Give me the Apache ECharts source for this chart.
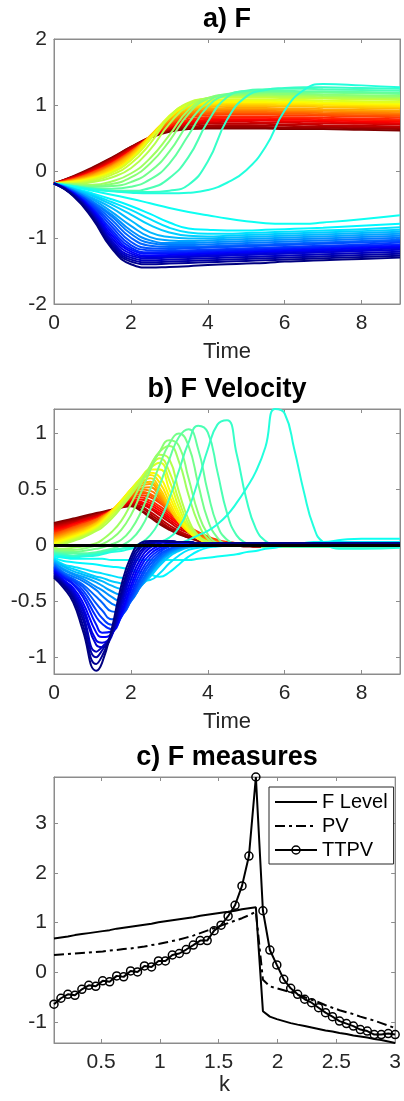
<!DOCTYPE html>
<html><head><meta charset="utf-8">
<script src="https://cdn.jsdelivr.net/npm/echarts@6/dist/echarts.min.js"></script>
<style>html,body{margin:0;padding:0;background:#fff}#c{width:404px;height:1101px}</style>
</head><body><div id="c"></div>
<script>
// ---------- tick labels ----------
const ticksTime = [0, 2, 4, 6, 8];
const ticksF = [-2, -1, 0, 1, 2];
const ticksVel = [-1, -0.5, 0, 0.5, 1];
const ticksK = [0.5, 1, 1.5, 2, 2.5, 3];
const ticksMeasure = [-1, 0, 1, 2, 3];

// ---------- panel a: F over time (one row per k, k ascending) ----------
const timeF = [0, 0.5, 1, 1.5, 2, 2.5, 3, 3.5, 4, 4.5, 5, 5.5, 6, 6.5, 7, 8, 9];
const fUpper = [
[-.18,-.07,.06,.21,.37,.51,.60,.64,.65,.65,.65,.65,.64,.64,.64,.63,.62],
[-.18,-.08,.05,.20,.37,.52,.62,.66,.67,.67,.67,.67,.66,.66,.66,.65,.64],
[-.18,-.08,.04,.19,.36,.52,.63,.68,.69,.70,.70,.69,.69,.68,.68,.67,.66],
[-.18,-.09,.03,.18,.35,.52,.64,.70,.72,.72,.72,.72,.71,.71,.70,.69,.68],
[-.18,-.09,.02,.17,.34,.51,.65,.72,.74,.75,.75,.74,.74,.73,.73,.72,.71],
[-.18,-.10,.01,.15,.33,.51,.66,.73,.76,.77,.77,.77,.76,.76,.75,.74,.73],
[-.18,-.10,.00,.14,.32,.51,.67,.75,.78,.79,.79,.79,.78,.78,.77,.76,.75],
[-.18,-.11,-.01,.13,.31,.51,.68,.77,.80,.81,.81,.81,.80,.80,.79,.78,.77],
[-.18,-.11,-.01,.12,.30,.51,.69,.78,.82,.83,.83,.83,.82,.82,.81,.80,.79],
[-.18,-.12,-.02,.12,.30,.52,.71,.81,.85,.86,.86,.86,.85,.85,.84,.83,.82],
[-.18,-.12,-.02,.11,.30,.52,.72,.83,.87,.88,.88,.88,.87,.87,.86,.85,.84],
[-.18,-.12,-.03,.10,.29,.52,.73,.85,.89,.90,.90,.90,.89,.89,.88,.87,.86],
[-.18,-.13,-.04,.09,.28,.52,.75,.87,.91,.92,.92,.92,.91,.91,.90,.89,.88],
[-.18,-.13,-.05,.08,.27,.53,.77,.89,.93,.94,.94,.94,.93,.93,.92,.91,.90],
[-.18,-.14,-.06,.07,.26,.53,.78,.91,.95,.96,.96,.96,.95,.95,.94,.93,.92],
[-.18,-.14,-.07,.06,.25,.54,.80,.93,.97,.99,.99,.99,.98,.98,.97,.96,.95],
[-.18,-.15,-.08,.04,.23,.53,.81,.95,.99,1.01,1.01,1.01,1.00,1.00,.99,.98,.97],
[-.18,-.15,-.09,.02,.21,.52,.82,.97,1.01,1.03,1.03,1.03,1.02,1.02,1.01,1.00,.99],
[-.18,-.16,-.10,.00,.19,.50,.82,.99,1.03,1.05,1.05,1.05,1.04,1.04,1.03,1.02,1.01],
[-.18,-.16,-.11,-.01,.18,.49,.83,1.01,1.05,1.07,1.07,1.07,1.06,1.06,1.05,1.04,1.03],
[-.18,-.17,-.12,-.02,.17,.48,.84,1.02,1.07,1.09,1.09,1.09,1.08,1.08,1.07,1.06,1.05],
[-.18,-.18,-.14,-.05,.12,.42,.82,1.04,1.10,1.12,1.12,1.12,1.11,1.11,1.10,1.09,1.08],
[-.18,-.19,-.16,-.09,.05,.33,.72,1.00,1.11,1.14,1.14,1.14,1.13,1.13,1.12,1.11,1.10],
[-.18,-.19,-.20,-.15,-.03,.20,.55,.93,1.11,1.15,1.16,1.16,1.15,1.15,1.14,1.13,1.12],
[-.18,-.20,-.22,-.19,-.09,.12,.46,.87,1.10,1.16,1.17,1.18,1.17,1.17,1.16,1.15,1.14],
[-.18,-.21,-.23,-.22,-.16,.00,.30,.73,1.05,1.17,1.19,1.20,1.20,1.19,1.19,1.18,1.17],
[-.18,-.22,-.25,-.26,-.23,-.12,.12,.55,.98,1.16,1.21,1.22,1.22,1.21,1.21,1.20,1.19],
[-.18,-.22,-.26,-.29,-.29,-.25,-.10,.22,.75,1.12,1.22,1.24,1.25,1.25,1.24,1.23,1.22],
[-.18,-.22,-.26,-.29,-.31,-.31,-.29,-.20,.15,.78,1.13,1.23,1.26,1.27,1.27,1.26,1.25],
[-.18,-.23,-.27,-.30,-.32,-.33,-.33,-.32,-.28,-.17,.02,.37,.92,1.23,1.32,1.30,1.27]
];
const fLower = [
[-.18,-.23,-.29,-.35,-.41,-.48,-.55,-.61,-.66,-.71,-.75,-.78,-.79,-.79,-.77,-.72,-.66],
[-.18,-.25,-.33,-.42,-.52,-.64,-.77,-.86,-.88,-.89,-.89,-.88,-.87,-.86,-.85,-.82,-.79],
[-.18,-.26,-.35,-.46,-.58,-.72,-.85,-.92,-.94,-.94,-.93,-.92,-.91,-.90,-.89,-.87,-.84],
[-.18,-.26,-.37,-.50,-.65,-.81,-.92,-.97,-.98,-.97,-.96,-.95,-.94,-.93,-.92,-.90,-.88],
[-.18,-.27,-.40,-.55,-.74,-.92,-.99,-1.01,-1.01,-1.00,-.99,-.98,-.97,-.96,-.95,-.93,-.91],
[-.18,-.28,-.42,-.61,-.82,-.99,-1.04,-1.05,-1.04,-1.03,-1.02,-1.01,-1.00,-.99,-.98,-.96,-.94],
[-.18,-.29,-.45,-.65,-.89,-1.04,-1.08,-1.08,-1.07,-1.06,-1.05,-1.04,-1.03,-1.02,-1.01,-.99,-.97],
[-.18,-.29,-.46,-.68,-.94,-1.08,-1.11,-1.11,-1.10,-1.09,-1.08,-1.07,-1.06,-1.05,-1.04,-1.02,-1.00],
[-.18,-.30,-.48,-.73,-1.00,-1.12,-1.14,-1.14,-1.13,-1.12,-1.11,-1.10,-1.09,-1.08,-1.07,-1.05,-1.03],
[-.18,-.31,-.50,-.78,-1.06,-1.16,-1.17,-1.16,-1.15,-1.14,-1.13,-1.12,-1.11,-1.10,-1.09,-1.07,-1.05],
[-.18,-.31,-.52,-.83,-1.11,-1.19,-1.20,-1.19,-1.18,-1.17,-1.16,-1.15,-1.14,-1.13,-1.12,-1.10,-1.07],
[-.18,-.32,-.55,-.88,-1.15,-1.22,-1.22,-1.21,-1.20,-1.19,-1.18,-1.17,-1.16,-1.15,-1.14,-1.12,-1.10],
[-.18,-.33,-.57,-.92,-1.18,-1.24,-1.24,-1.23,-1.22,-1.21,-1.20,-1.19,-1.18,-1.17,-1.16,-1.14,-1.12],
[-.18,-.33,-.59,-.96,-1.21,-1.27,-1.26,-1.25,-1.24,-1.23,-1.22,-1.21,-1.20,-1.19,-1.18,-1.16,-1.14],
[-.18,-.34,-.61,-1.00,-1.24,-1.29,-1.28,-1.27,-1.26,-1.25,-1.24,-1.23,-1.22,-1.21,-1.20,-1.18,-1.16],
[-.18,-.34,-.63,-1.04,-1.27,-1.31,-1.30,-1.29,-1.28,-1.27,-1.26,-1.25,-1.24,-1.23,-1.22,-1.20,-1.18],
[-.18,-.35,-.65,-1.07,-1.30,-1.34,-1.33,-1.32,-1.31,-1.30,-1.29,-1.28,-1.27,-1.26,-1.25,-1.23,-1.21],
[-.18,-.36,-.67,-1.10,-1.33,-1.37,-1.36,-1.35,-1.34,-1.33,-1.32,-1.31,-1.30,-1.29,-1.28,-1.26,-1.24],
[-.18,-.36,-.69,-1.13,-1.36,-1.40,-1.39,-1.38,-1.37,-1.36,-1.35,-1.34,-1.33,-1.32,-1.31,-1.29,-1.27],
[-.18,-.37,-.71,-1.16,-1.40,-1.45,-1.44,-1.43,-1.41,-1.40,-1.39,-1.38,-1.36,-1.35,-1.34,-1.32,-1.30]
];

// ---------- panel b: F velocity over time (values in hundredths) ----------
const timeV = [0,0.25,0.5,0.75,1.1,1.25,1.5,1.75,2,2.25,2.5,2.75,3,3.25,3.5,3.75,4,4.25,4.5,4.75,5,5.25,5.5,5.75,6,6.25,6.5,6.75,7,7.5,8,9];
const vUpper = [
[20,22,24,26,29,30,32,34,35,31,25,19,14,10,7,4,3, 2,1,0,-1,-1,-1,-1,-1,-1,-1,-1,-1, -1,-1,-1],
[19,21,23,25,28,29,32,34,36,32,26,20,15,11,7,5,3, 2,1,0,0,-1,-1,-1,-1,-1,-1,-1,-1, -1,-1,-1],
[18,20,22,24,27,29,31,34,36,34,28,22,16,12,8,5,3, 2,1,1,0,-1,-1,-1,-1,-1,-1,-1,-1, -1,-1,-1],
[17,19,21,23,27,28,31,34,37,35,30,24,18,13,9,6,4, 2,1,1,0,0,-1,-1,-1,-1,-1,-1,-1, -1,-1,-1],
[16,18,20,23,26,28,31,34,38,37,33,27,21,15,11,7,5, 3,2,1,0,0,-1,-1,-1,-1,-1,-1,-1, -1,-1,-1],
[15,17,19,22,25,27,31,35,39,38,34,29,23,17,12,8,5, 3,2,1,0,0,-1,-1,-1,-1,-1,-1,-1, -1,-1,-1],
[14,16,19,21,25,27,31,35,40,39,36,31,25,19,13,9,6, 4,2,1,1,0,0,-1,-1,-1,-1,-1,-1, -1,-1,-1],
[13,15,18,20,24,27,31,36,41,41,38,33,27,20,14,10,6, 4,2,1,1,0,0,-1,-1,-1,-1,-1,-1, -1,-1,-1],
[12,14,17,20,24,26,31,36,42,43,40,35,29,22,16,11,7, 4,3,2,1,0,0,-1,-1,-1,-1,-1,-1, -1,-1,-1],
[11,13,16,19,23,26,30,36,42,45,43,38,31,24,17,12,8, 5,3,2,1,0,0,-1,-1,-1,-1,-1,-1, -1,-1,-1],
[10,13,16,19,23,26,31,37,43,47,45,39,31,23,16,11,7, 4,2,1,0,0,-1,-1,-1,-1,-1,-1,-1, -1,-1,-1],
[9,12,15,18,23,26,31,38,44,48,46,40,31,23,16,10,6, 4,2,1,0,0,-1,-1,-1,-1,-1,-1,-1, -1,-1,-1],
[8,11,14,17,22,25,31,38,45,50,49,42,32,23,15,9,5, 3,2,1,0,0,-1,-1,-1,-1,-1,-1,-1, -1,-1,-1],
[7,10,13,16,21,25,31,38,46,51,52,44,33,22,14,8,5, 3,1,1,0,0,-1,-1,-1,-1,-1,-1,-1, -1,-1,-1],
[6,9,12,15,20,24,31,39,47,53,55,46,33,21,13,7,4, 2,1,0,0,0,-1,-1,-1,-1,-1,-1,-1, -1,-1,-1],
[5,8,11,14,20,24,31,39,48,55,57,48,34,21,12,7,4, 2,1,0,0,0,-1,-1,-1,-1,-1,-1,-1, -1,-1,-1],
[4,7,10,13,19,23,31,40,49,56,60,51,35,21,12,6,3, 2,1,0,0,0,-1,-1,-1,-1,-1,-1,-1, -1,-1,-1],
[3,6,9,12,18,22,30,40,50,58,63,56,39,23,12,6,3, 1,0,0,0,0,-1,-1,-1,-1,-1,-1,-1, -1,-1,-1],
[2,5,8,11,17,21,30,40,50,59,65,61,44,26,13,6,3, 1,0,0,0,0,-1,-1,-1,-1,-1,-1,-1, -1,-1,-1],
[1,4,7,10,16,20,29,39,50,60,68,68,50,29,14,6,2, 1,0,0,0,0,-1,-1,-1,-1,-1,-1,-1, -1,-1,-1],
[0,3,6,9,15,19,28,38,49,60,69,74,58,34,16,7,3, 1,0,0,0,0,-1,-1,-1,-1,-1,-1,-1, -1,-1,-1],
[-1,2,5,8,14,18,26,36,47,59,70,78,66,40,19,8,3, 1,0,0,0,0,-1,-1,-1,-1,-1,-1,-1, -1,-1,-1],
[-2,1,4,7,13,16,24,34,45,57,69,81,77,48,23,9,3, 1,0,0,0,0,-1,-1,-1,-1,-1,-1,-1, -1,-1,-1],
[-3,-3,-2,-1,2,5,12,22,37,54,71,84,89,75,45,20,6, 1,0,0,0,0,-1,-1,-1,-1,-1,-1,-1, -1,-1,-1],
[-4,-4,-4,-3,0,1,6,14,27,46,67,84,94,89,60,29,10, 2,0,0,0,0,-1,-1,-1,-1,-1,-1,-1, -1,-1,-1],
[-5,-6,-6,-5,-3,-2,1,5,14,29,50,72,91,100,89,55,23, 7,1,0,0,0,-1,-1,-1,-1,-1,-1,-1, -1,-1,-1],
[-6,-7,-7,-7,-6,-5,-3,0,5,15,32,54,77,97,104,86,48, 18,5,1,0,0,-1,-1,-1,-1,-1,-1,-1, -1,-1,-1],
[-7,-8,-9,-8,-7,-6,-4,-3,-1,2,9,22,42,67,92,107,101, 66,29,9,2,0,0,-1,-1,-1,-1,-1,-1, -1,-1,-1],
[-8,-9,-10,-9,-8,-7,-5,-3,-2,-1,2,3,7,16,33,58,86, 108,112,82,42,15,4,1,0,-1,-1,-1,-1, -1,-1,-1],
[-9,-10,-11,-10,-9,-8,-6,-5,-3,-2,-1,0,1,2,5,9,13, 19,27,38,51,66,88,122,118,86,48,17,3, -3,-3,-2]
];
const vLower = [
[-10,-11,-12,-12,-12,-12,-13,-13,-13,-13,-13,-13,-13,-13,-13,-12,-11, -10,-9,-8,-6,-5,-3,-2,0,1,2,3,3, 5,6,6],
[-11,-14,-15,-16,-17,-18,-19,-20,-22,-24,-26,-28,-24,-17,-10,-5,-2, -1,0,1,1,2,2,2,2,2,2,2,3, 3,3,3],
[-12,-17,-19,-21,-24,-25,-27,-29,-30,-32,-31,-25,-16,-9,-4,-2,-1, 0,1,1,2,2,2,2,2,2,2,2,2, 3,3,3],
[-13,-18,-21,-24,-28,-29,-32,-34,-36,-35,-28,-18,-10,-5,-2,-1,0, 1,2,2,2,2,2,2,2,2,2,2,2, 2,2,2],
[-14,-19,-23,-26,-30,-32,-36,-39,-40,-36,-26,-16,-8,-4,-1,0,1, 2,2,2,2,2,2,2,2,2,2,2,2, 2,2,2],
[-15,-21,-25,-28,-33,-36,-41,-44,-44,-37,-25,-14,-7,-3,-1,0,1, 2,2,2,2,2,2,2,2,2,2,2,2, 2,2,2],
[-16,-22,-26,-30,-37,-40,-46,-50,-48,-37,-24,-13,-6,-2,0,1,2, 2,2,2,2,2,2,2,2,2,2,2,2, 2,2,2],
[-17,-24,-28,-32,-40,-45,-52,-55,-50,-36,-22,-12,-5,-2,0,1,2, 2,2,2,2,2,2,2,2,2,2,2,2, 2,2,2],
[-18,-25,-30,-35,-46,-51,-59,-60,-50,-34,-20,-10,-4,-1,1,2,2, 2,2,2,2,2,2,2,2,2,2,2,2, 2,2,2],
[-19,-26,-31,-37,-52,-58,-66,-63,-49,-31,-17,-8,-3,0,1,2,2, 2,2,2,2,2,2,2,2,2,2,2,2, 2,2,2],
[-20,-27,-32,-40,-58,-65,-71,-64,-47,-28,-14,-6,-1,1,2,2,2, 2,2,2,2,2,2,2,2,2,2,2,2, 2,2,2],
[-21,-28,-34,-43,-64,-70,-75,-64,-44,-24,-11,-4,0,2,2,2,2, 2,2,2,2,2,2,2,2,2,2,2,2, 2,2,2],
[-22,-29,-35,-46,-71,-78,-77,-63,-40,-20,-8,-2,1,2,2,2,2, 2,2,2,2,2,2,2,2,2,2,2,2, 2,2,2],
[-23,-31,-38,-51,-78,-82,-79,-61,-36,-16,-5,0,2,3,3,2,2, 2,2,2,2,2,2,2,2,2,2,2,2, 2,2,2],
[-24,-32,-40,-55,-85,-87,-80,-58,-31,-12,-2,2,3,3,3,2,2, 2,2,2,2,2,2,2,2,2,2,2,2, 2,2,2],
[-25,-33,-42,-58,-89,-91,-81,-54,-26,-8,0,3,3,3,3,2,2, 2,2,2,2,2,2,2,2,2,2,2,2, 2,2,2],
[-26,-34,-44,-62,-95,-91,-80,-50,-22,-5,1,3,4,3,3,2,2, 2,2,2,2,2,2,2,2,2,2,2,2, 2,2,2],
[-27,-35,-46,-66,-100,-94,-79,-46,-18,-2,2,4,4,3,3,2,2, 2,2,2,2,2,2,2,2,2,2,2,2, 2,2,2],
[-28,-36,-48,-71,-106,-99,-78,-42,-14,0,3,4,4,3,3,2,2, 2,2,2,2,2,2,2,2,2,2,2,2, 2,2,2],
[-29,-38,-51,-76,-112,-105,-75,-36,-10,2,4,4,3,3,3,2,2, 2,2,2,2,2,2,2,2,2,2,2,2, 2,2,2]
];
const zeroLineX = [0, 9];
const zeroLineY = [0, 0];

// ---------- panel c: F measures vs k ----------
const kValues = [0.100,0.159,0.218,0.278,0.337,0.396,0.455,0.514,0.573,0.633,0.692,0.751,0.810,0.869,0.929,0.988,1.047,1.106,1.165,1.224,1.284,1.343,1.402,1.461,1.520,1.580,1.639,1.698,1.757,1.816,1.876,1.935,1.994,2.053,2.112,2.171,2.231,2.290,2.349,2.408,2.467,2.527,2.586,2.645,2.704,2.763,2.822,2.882,2.941,3.000];
const fLevel = [0.68,0.70,0.72,0.75,0.77,0.79,0.81,0.83,0.85,0.88,0.90,0.92,0.94,0.96,0.98,1.01,1.03,1.05,1.07,1.09,1.11,1.14,1.16,1.18,1.20,1.22,1.24,1.27,1.29,1.31,-0.78,-0.89,-0.94,-0.98,-1.02,-1.05,-1.08,-1.11,-1.14,-1.17,-1.19,-1.22,-1.24,-1.27,-1.29,-1.31,-1.34,-1.36,-1.39,-1.42];
const pv = [0.35,0.36,0.37,0.38,0.39,0.40,0.41,0.42,0.44,0.45,0.47,0.48,0.50,0.52,0.55,0.57,0.60,0.63,0.66,0.70,0.74,0.79,0.84,0.89,0.94,0.99,1.04,1.09,1.15,1.22,-0.15,-0.28,-0.32,-0.36,-0.40,-0.45,-0.50,-0.55,-0.60,-0.66,-0.71,-0.76,-0.80,-0.84,-0.89,-0.93,-0.97,-1.02,-1.07,-1.12];
const ttpv = [-0.64,-0.52,-0.44,-0.46,-0.34,-0.26,-0.28,-0.17,-0.19,-0.07,-0.09,0.03,0.01,0.13,0.11,0.23,0.23,0.35,0.38,0.46,0.55,0.64,0.64,0.84,0.95,1.13,1.35,1.74,2.34,3.93,1.24,0.45,0.15,-0.14,-0.32,-0.44,-0.54,-0.61,-0.71,-0.81,-0.89,-0.98,-1.03,-1.08,-1.15,-1.18,-1.25,-1.25,-1.23,-1.25];

// ---------- build ----------
const FONT = '"Liberation Sans", Arial, Helvetica, sans-serif';
const AX = '#8c8c8c', TXT = '#262626';
function jet(p) {
  const c = x => Math.round(255 * Math.max(0, Math.min(1, x)));
  return 'rgb(' + c(1.5 - Math.abs(4 * p - 3)) + ',' + c(1.5 - Math.abs(4 * p - 2)) + ',' + c(1.5 - Math.abs(4 * p - 1)) + ')';
}
const fRows = fUpper.concat(fLower);
const vRows = vUpper.concat(vLower);
const nCurves = fRows.length;

const grids = [
  { left: 54, top: 39, width: 346, height: 265 },
  { left: 54, top: 409, width: 346, height: 265 },
  { left: 54, top: 777, width: 346, height: 266 }
].map(g => Object.assign(g, { show: true, borderColor: AX, borderWidth: 1, backgroundColor: '#fff' }));

const xAxes = [], yAxes = [];
function addX(gi, min, max, ticks, name, gap) {
  xAxes.push({ type: 'value', gridIndex: gi, min, max, position: 'bottom', name, nameLocation: 'middle', nameGap: gap,
    nameTextStyle: { fontSize: 22, color: TXT, fontFamily: FONT },
    axisLine: { show: true, onZero: false, lineStyle: { color: AX } },
    axisTick: { show: true, inside: true, length: 4, customValues: ticks, lineStyle: { color: AX } },
    axisLabel: { customValues: ticks, fontSize: 21, color: TXT, fontFamily: FONT, margin: 9 },
    splitLine: { show: false } });
  xAxes.push({ type: 'value', gridIndex: gi, min, max, position: 'top',
    axisLine: { show: true, onZero: false, lineStyle: { color: AX } },
    axisTick: { show: true, inside: true, length: 4, customValues: ticks, lineStyle: { color: AX } },
    axisLabel: { show: false }, splitLine: { show: false } });
}
function addY(gi, min, max, ticks) {
  yAxes.push({ type: 'value', gridIndex: gi, min, max, position: 'left',
    axisLine: { show: true, onZero: false, lineStyle: { color: AX } },
    axisTick: { show: true, inside: true, length: 4, customValues: ticks, lineStyle: { color: AX } },
    axisLabel: { customValues: ticks, fontSize: 21, color: TXT, fontFamily: FONT, margin: 7 },
    splitLine: { show: false } });
  yAxes.push({ type: 'value', gridIndex: gi, min, max, position: 'right',
    axisLine: { show: true, onZero: false, lineStyle: { color: AX } },
    axisTick: { show: true, inside: true, length: 4, customValues: ticks, lineStyle: { color: AX } },
    axisLabel: { show: false }, splitLine: { show: false } });
}
addX(0, 0, 9, ticksTime, 'Time', 37); addY(0, -2, 2, ticksF);
addX(1, 0, 9, ticksTime, 'Time', 37); addY(1, -1.15, 1.22, ticksVel);
addX(2, 0.1, 3, ticksK, 'k', 18); addY(2, -1.42, 3.93, ticksMeasure);

const series = [];
fRows.forEach((row, i) => {
  series.push({ type: 'line', xAxisIndex: 0, yAxisIndex: 0, silent: true, symbol: 'none', smooth: 0.5,
    data: timeF.map((t, j) => [t, row[j]]), lineStyle: { width: 2, color: jet(1 - i / (nCurves - 1)) }, z: 2 });
});
vRows.forEach((row, i) => {
  series.push({ type: 'line', xAxisIndex: 2, yAxisIndex: 2, silent: true, symbol: 'none', smooth: 0.5,
    data: timeV.map((t, j) => [t, row[j] / 100]), lineStyle: { width: 2, color: jet(1 - i / (nCurves - 1)) }, z: 2 });
});
series.push({ type: 'line', xAxisIndex: 2, yAxisIndex: 2, silent: true, symbol: 'none',
  data: zeroLineX.map((x, j) => [x, zeroLineY[j]]), lineStyle: { width: 3, color: '#000' }, z: 3 });

series.push({ name: 'F Level', type: 'line', xAxisIndex: 4, yAxisIndex: 4, silent: true, symbol: 'none',
  data: kValues.map((k, i) => [k, fLevel[i]]), lineStyle: { width: 2, color: '#000' }, itemStyle: { color: '#000' }, z: 4 });
series.push({ name: 'PV', type: 'line', xAxisIndex: 4, yAxisIndex: 4, silent: true, symbol: 'none',
  data: kValues.map((k, i) => [k, pv[i]]), lineStyle: { width: 2, color: '#000', type: [10, 4, 3, 4] }, itemStyle: { color: '#000' }, z: 4 });
series.push({ name: 'TTPV', type: 'line', xAxisIndex: 4, yAxisIndex: 4, silent: true, symbol: 'circle', symbolSize: 8,
  showSymbol: true, showAllSymbol: true, clip: false,
  data: kValues.map((k, i) => [k, ttpv[i]]), lineStyle: { width: 2, color: '#000' },
  itemStyle: { color: 'rgba(255,255,255,0)', borderColor: '#000', borderWidth: 1.5 }, z: 5 });

const titleStyle = { fontSize: 27, fontWeight: 'bold', color: '#000', fontFamily: FONT };
const option = {
  animation: false,
  backgroundColor: '#fff',
  title: [
    { text: 'a) F', left: 227, top: 6, textAlign: 'center', padding: 0, textStyle: titleStyle },
    { text: 'b) F Velocity', left: 227, top: 376, textAlign: 'center', padding: 0, textStyle: titleStyle },
    { text: 'c) F measures', left: 227, top: 744, textAlign: 'center', padding: 0, textStyle: titleStyle }
  ],
  legend: { orient: 'vertical', left: 269, top: 787, itemWidth: 42, itemHeight: 10,
    itemGap: 4, padding: [5, 6, 4, 5], borderColor: '#262626', borderWidth: 1, backgroundColor: '#fff',
    selectedMode: false, textStyle: { fontSize: 20, color: '#000', fontFamily: FONT },
    data: [
      { name: 'F Level', itemStyle: { opacity: 0 } },
      { name: 'PV', itemStyle: { opacity: 0 } },
      { name: 'TTPV', itemStyle: { color: 'rgba(255,255,255,0)', borderColor: '#000', borderWidth: 1.5 } }
    ] },
  grid: grids, xAxis: xAxes, yAxis: yAxes, series
};
const chart = echarts.init(document.getElementById('c'), null, { renderer: 'canvas', width: 404, height: 1101 });
chart.setOption(option);
</script></body></html>
